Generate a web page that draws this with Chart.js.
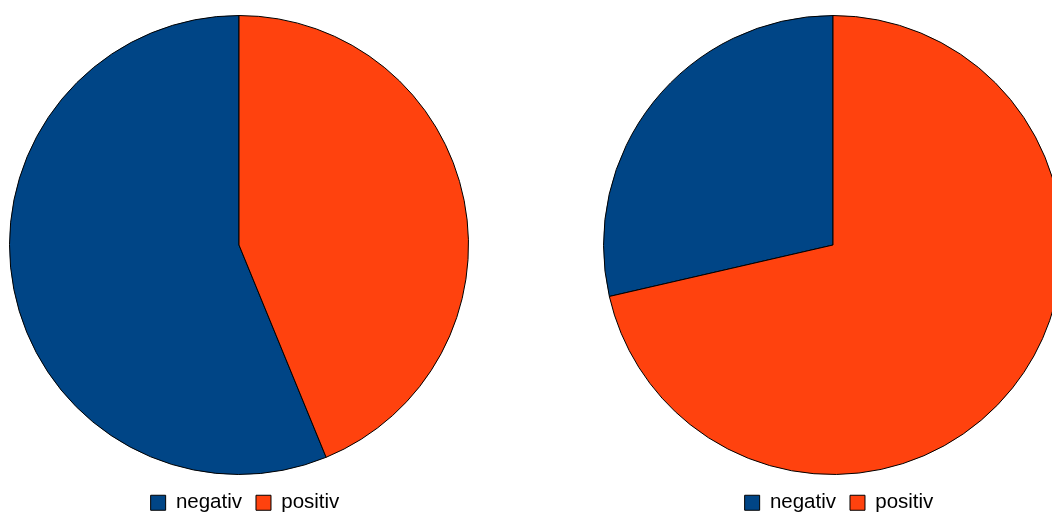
<!DOCTYPE html>
<html>
<head>
<meta charset="utf-8">
<script src="https://cdn.jsdelivr.net/npm/chart.js@4/dist/chart.umd.min.js"></script>
<style>
  html, body { margin: 0; padding: 0; background: #ffffff; overflow: hidden; width: 1052px; height: 515px; }
  .box { position: absolute; top: 0; width: 478px; height: 515px; }
</style>
</head>
<body>
<div class="box" style="left:0px"><canvas id="c1" width="478" height="515"></canvas></div>
<div class="box" style="left:594px"><canvas id="c2" width="478" height="515"></canvas></div>
<script>
const categories = ['negativ', 'positiv'];
const leftValues = [56.2, 43.8];
const rightValues = [28.6, 71.4];
const sliceColors = ['#004586', '#ff420e'];

const legendShift = {
  id: 'legendShift',
  afterLayout(chart) {
    if (chart.legend) { chart.legend.left += 6; chart.legend.right += 6; }
  }
};

function makePie(id, values) {
  const total = values.reduce((a, b) => a + b, 0);
  return new Chart(document.getElementById(id), {
    type: 'pie',
    data: {
      labels: categories,
      datasets: [{
        data: values,
        backgroundColor: sliceColors,
        borderColor: '#000000',
        borderWidth: 1,
        radius: 229.5,
        clip: false
      }]
    },
    plugins: [legendShift],
    options: {
      responsive: false,
      devicePixelRatio: 1,
      animation: false,
      rotation: -360 * values[0] / total,
      layout: { padding: { top: 11.5, bottom: -8, left: 0, right: 0 } },
      plugins: {
        tooltip: { enabled: false },
        legend: {
          display: true,
          position: 'bottom',
          labels: {
            boxWidth: 15,
            boxHeight: 15,
            padding: 14,
            color: '#000000',
            font: { family: 'Liberation Sans', size: 20.5 }
          }
        }
      }
    }
  });
}

makePie('c1', leftValues);
makePie('c2', rightValues);
</script>
</body>
</html>
